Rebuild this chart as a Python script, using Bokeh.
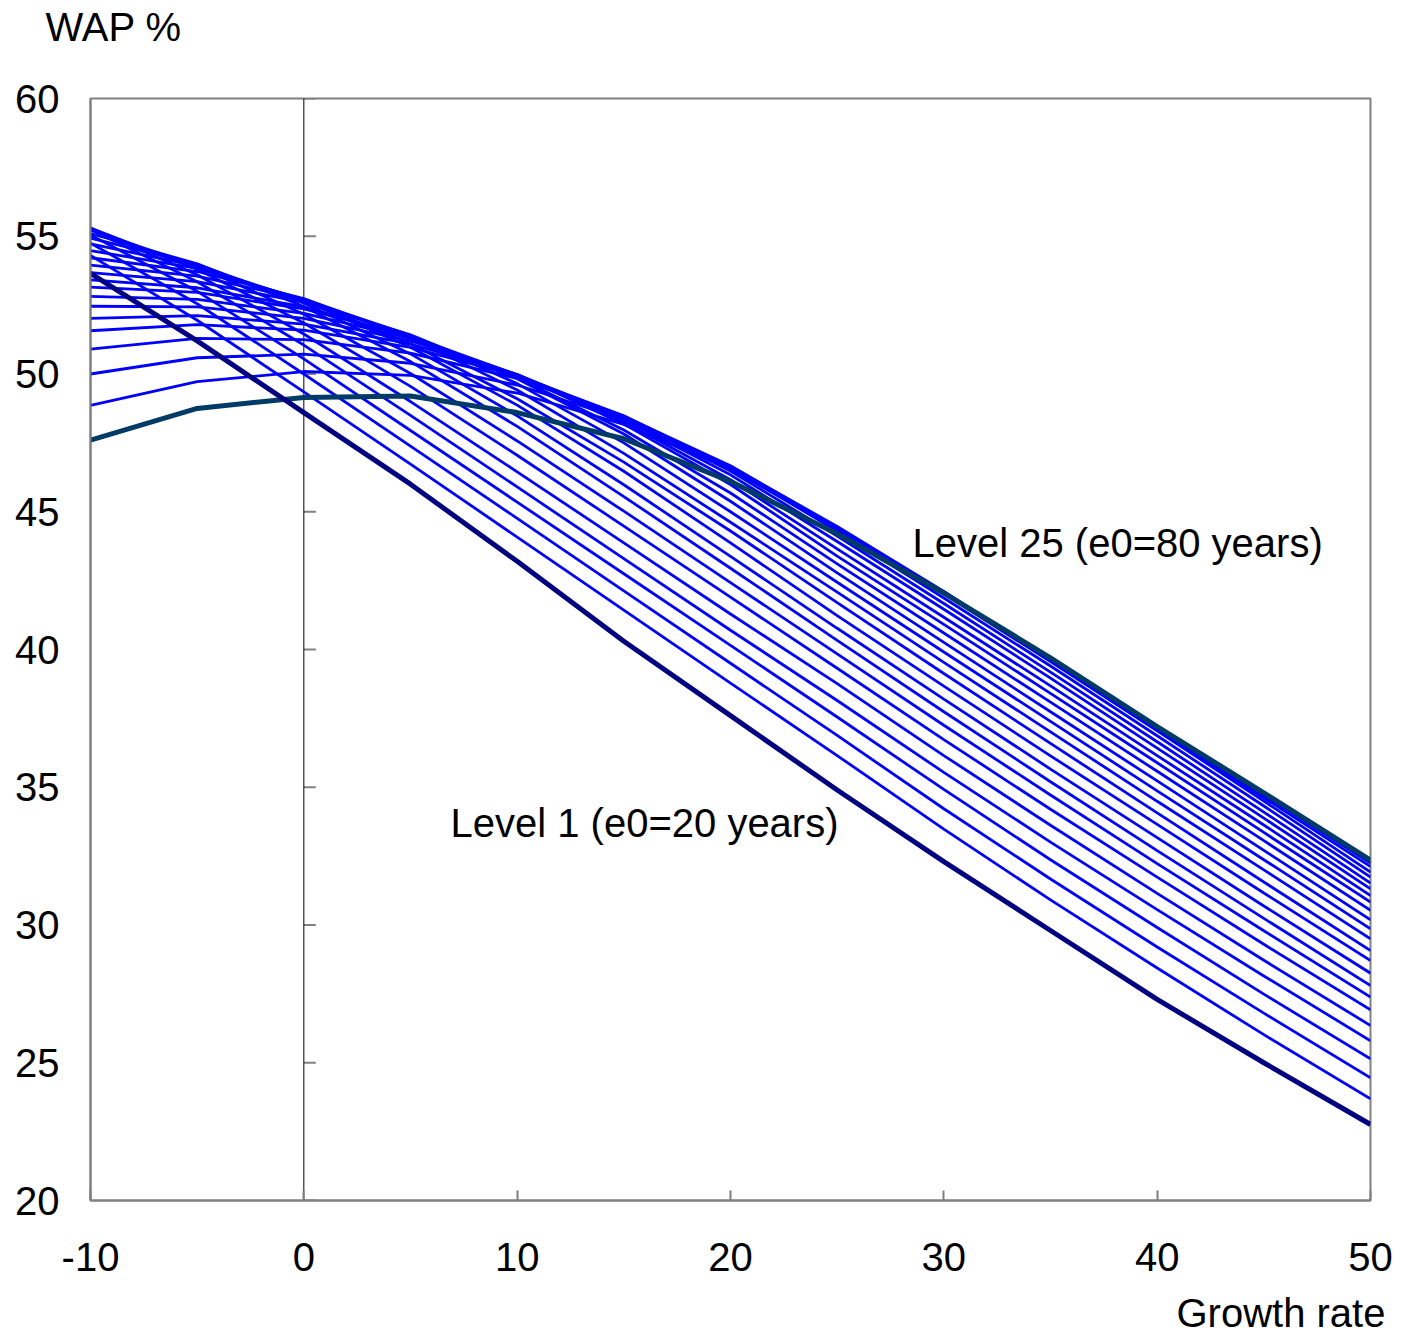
from bokeh.plotting import figure
from bokeh.models import Range1d, FixedTicker, Span, Label
from bokeh.embed import file_html
from bokeh.resources import INLINE

# Growth rate (x) values
growth = [-10, -5, 0, 5, 10, 15, 20, 25, 30, 35, 40, 45, 50]

# WAP % for each mortality level (Level 1 = e0 20 years ... Level 25 = e0 80 years)
level_01 = [53.65, 51.2, 48.6, 46.0, 43.2, 40.3, 37.6, 34.9, 32.3, 29.8, 27.3, 25.0, 22.76]
level_02 = [54.3, 51.95, 49.35, 46.73, 44.08, 41.43, 38.78, 36.15, 33.48, 30.91, 28.44, 26.02, 23.69]
level_03 = [54.75, 52.55, 50.0, 47.38, 44.76, 42.13, 39.5, 36.88, 34.22, 31.67, 29.2, 26.8, 24.45]
level_04 = [55.05, 53.0, 50.55, 47.95, 45.35, 42.75, 40.15, 37.55, 34.92, 32.37, 29.91, 27.49, 25.14]
level_05 = [55.25, 53.35, 51.05, 48.5, 45.9, 43.3, 40.7, 38.15, 35.54, 33.01, 30.56, 28.15, 25.8]
level_06 = [55.3, 53.6, 51.45, 49.0, 46.45, 43.87, 41.29, 38.76, 36.15, 33.62, 31.15, 28.72, 26.35]
level_07 = [55.3, 53.8, 51.85, 49.55, 47.05, 44.48, 41.9, 39.32, 36.73, 34.2, 31.74, 29.3, 26.92]
level_08 = [55.22, 53.92, 52.17, 50.02, 47.57, 45.02, 42.43, 39.84, 37.25, 34.72, 32.23, 29.79, 27.38]
level_09 = [55.1, 54.0, 52.45, 50.45, 48.1, 45.55, 42.95, 40.33, 37.74, 35.2, 32.7, 30.24, 27.8]
level_10 = [54.93, 53.98, 52.58, 50.73, 48.48, 45.98, 43.38, 40.77, 38.2, 35.66, 33.17, 30.69, 28.25]
level_11 = [54.72, 53.92, 52.67, 50.97, 48.87, 46.47, 43.87, 41.23, 38.67, 36.14, 33.65, 31.16, 28.71]
level_12 = [54.48, 53.83, 52.7, 51.1, 49.1, 46.8, 44.3, 41.7, 39.13, 36.59, 34.07, 31.56, 29.07]
level_13 = [54.22, 53.72, 52.74, 51.32, 49.42, 47.12, 44.62, 42.08, 39.53, 37.01, 34.49, 32.0, 29.5]
level_14 = [53.95, 53.55, 52.7, 51.4, 49.65, 47.5, 45.0, 42.44, 39.91, 37.39, 34.87, 32.37, 29.86]
level_15 = [53.68, 53.35, 52.6, 51.42, 49.83, 47.82, 45.38, 42.78, 40.26, 37.74, 35.23, 32.71, 30.19]
level_16 = [53.42, 53.13, 52.44, 51.35, 49.86, 47.97, 45.68, 43.11, 40.6, 38.09, 35.58, 33.06, 30.53]
level_17 = [53.15, 52.96, 52.36, 51.37, 49.97, 48.18, 45.99, 43.39, 40.91, 38.41, 35.89, 33.36, 30.83]
level_18 = [52.82, 52.71, 52.2, 51.29, 49.98, 48.27, 46.16, 43.65, 41.17, 38.68, 36.15, 33.63, 31.07]
level_19 = [52.46, 52.44, 52.02, 51.2, 49.98, 48.36, 46.34, 43.92, 41.46, 38.96, 36.42, 33.88, 31.31]
level_20 = [52.02, 52.12, 51.81, 51.09, 49.97, 48.43, 46.48, 44.12, 41.67, 39.18, 36.65, 34.1, 31.52]
level_21 = [51.57, 51.79, 51.59, 50.97, 49.93, 48.48, 46.6, 44.3, 41.87, 39.4, 36.87, 34.32, 31.74]
level_22 = [50.9, 51.29, 51.25, 50.76, 49.84, 48.47, 46.67, 44.42, 42.02, 39.56, 37.05, 34.5, 31.92]
level_23 = [50.0, 50.59, 50.72, 50.39, 49.6, 48.35, 46.64, 44.47, 42.11, 39.6, 37.1, 34.62, 32.12]
level_24 = [48.86, 49.72, 50.09, 49.95, 49.31, 48.17, 46.54, 44.4, 42.1, 39.62, 37.15, 34.72, 32.25]
level_25 = [47.6, 48.75, 49.15, 49.2, 48.6, 47.65, 46.1, 44.2, 42.05, 39.7, 37.2, 34.8, 32.35]

x_ticks = [-10, 0, 10, 20, 30, 40, 50]
y_ticks = [20, 25, 30, 35, 40, 45, 50, 55, 60]

label_level1 = "Level 1 (e0=20 years)"
label_level25 = "Level 25 (e0=80 years)"
y_title = "WAP %"
x_title = "Growth rate"

FONT = "Liberation Sans"
FS = "40px"
GRAY = "#808080"

middle_levels = [level_02, level_03, level_04, level_05, level_06, level_07, level_08,
                 level_09, level_10, level_11, level_12, level_13, level_14, level_15,
                 level_16, level_17, level_18, level_19, level_20, level_21, level_22,
                 level_23, level_24]

p = figure(width=1407, height=1336, output_backend="svg", toolbar_location=None,
           x_range=Range1d(-10, 50), y_range=Range1d(20, 60),
           min_border_left=90, min_border_right=37, min_border_top=98,
           min_border_bottom=136)
p.background_fill_color = "white"
p.border_fill_color = "white"
p.grid.visible = False
p.outline_line_color = GRAY
p.outline_line_width = 2

p.xaxis.ticker = FixedTicker(ticks=x_ticks)
p.yaxis.ticker = FixedTicker(ticks=y_ticks)
p.xaxis.major_label_overrides = {-10: "-10"}
for ax in (p.xaxis, p.yaxis):
    ax.axis_line_color = GRAY
    ax.axis_line_width = 2
    ax.minor_tick_line_color = None
    ax.major_label_text_font = FONT
    ax.major_label_text_font_size = FS
    ax.major_label_text_color = "black"
p.xaxis.major_tick_in = 10
p.xaxis.major_tick_out = 0
p.xaxis.major_tick_line_color = GRAY
p.xaxis.major_tick_line_width = 2
p.xaxis.major_label_standoff = 42
p.yaxis.major_tick_line_color = None
p.yaxis.major_label_standoff = 25

# vertical zero line with its ticks
zero_line = Span(location=0, dimension="height", line_color="black", line_width=1,
                 level="underlay")
p.add_layout(zero_line)
p.ray(x=[0] * len(y_ticks), y=y_ticks, length=12, length_units="screen", angle=0,
      line_color=GRAY, line_width=2, level="underlay")

for lv in middle_levels:
    p.line(growth, lv, line_color="#0000FF", line_width=2.8)

p.line(growth, level_25, line_color="#003A66", line_width=5)
p.line(growth, level_01, line_color="#000080", line_width=5)

p.add_layout(Label(x=28.53, y=43.85, text=label_level25, text_font=FONT,
                   text_font_size=FS, text_color="black",
                   text_baseline="middle", text_align="left"))
p.add_layout(Label(x=6.875, y=33.72, text=label_level1, text_font=FONT,
                   text_font_size=FS, text_color="black",
                   text_baseline="middle", text_align="left"))
p.add_layout(Label(x=-12.11, y=62.6, text=y_title, text_font=FONT,
                   text_font_size=FS, text_color="black",
                   text_baseline="middle", text_align="left"), "above")
p.add_layout(Label(x=50.7, y=15.92, text=x_title, text_font=FONT,
                   text_font_size=FS, text_color="black",
                   text_baseline="middle", text_align="right"), "below")

open("out.html", "w").write(file_html(p, INLINE))
